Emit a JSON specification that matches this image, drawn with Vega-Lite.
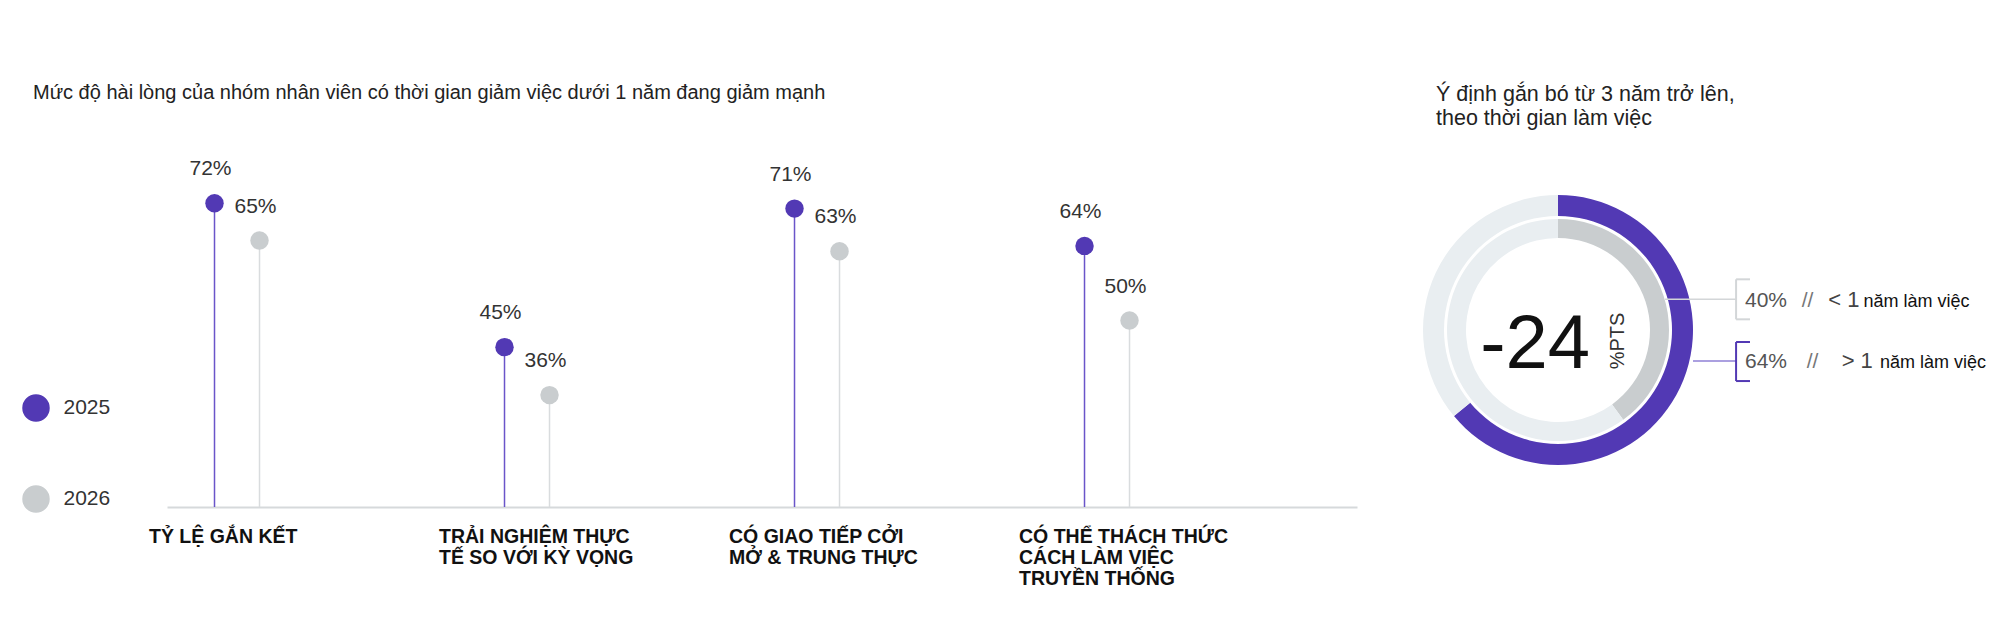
{
  "$schema": "https://vega.github.io/schema/vega-lite/v6.json",
  "background": "white",
  "padding": {"left": 22, "top": 83, "right": 5, "bottom": 5},
  "bounds": "flush",
  "spacing": 66,
  "resolve": {"scale": {"color": "independent"}, "legend": {"color": "independent"}},
  "config": {
    "view": {"stroke": null},
    "font": "Liberation Sans"
  },
  "datasets": {
    "satisfaction": [
      {"category": "TỶ LỆ GẮN KẾT", "year": "2025", "share": 0.72},
      {"category": "TỶ LỆ GẮN KẾT", "year": "2026", "share": 0.65},
      {"category": "TRẢI NGHIỆM THỰC\nTẾ SO VỚI KỲ VỌNG", "year": "2025", "share": 0.45},
      {"category": "TRẢI NGHIỆM THỰC\nTẾ SO VỚI KỲ VỌNG", "year": "2026", "share": 0.36},
      {"category": "CÓ GIAO TIẾP CỞI\nMỞ & TRUNG THỰC", "year": "2025", "share": 0.71},
      {"category": "CÓ GIAO TIẾP CỞI\nMỞ & TRUNG THỰC", "year": "2026", "share": 0.63},
      {"category": "CÓ THỂ THÁCH THỨC\nCÁCH LÀM VIỆC\nTRUYỀN THỐNG", "year": "2025", "share": 0.64},
      {"category": "CÓ THỂ THÁCH THỨC\nCÁCH LÀM VIỆC\nTRUYỀN THỐNG", "year": "2026", "share": 0.50}
    ],
    "rings": [
      {"ring": "outer", "segment": "> 1 năm làm việc", "share": 0.64, "rank": 1},
      {"ring": "outer", "segment": "outer remainder", "share": 0.36, "rank": 2},
      {"ring": "inner", "segment": "< 1 năm làm việc", "share": 0.40, "rank": 1},
      {"ring": "inner", "segment": "inner remainder", "share": 0.60, "rank": 2}
    ],
    "delta": [
      {"change": -24}
    ],
    "callouts": [
      {"tenure": "< 1", "share": 0.40, "unit": "năm làm việc"},
      {"tenure": "> 1", "share": 0.64, "unit": "năm làm việc"}
    ]
  },
  "hconcat": [
    {
      "width": 1190,
      "height": 373,
      "title": {
        "text": "Mức độ hài lòng của nhóm nhân viên có thời gian giảm việc dưới 1 năm đang giảm mạnh",
        "anchor": "start",
        "frame": "group",
        "dx": -134,
        "offset": 31,
        "fontSize": 20,
        "fontWeight": "normal",
        "color": "#222"
      },
      "data": {"name": "satisfaction"},
      "encoding": {
        "x": {
          "field": "category",
          "type": "nominal",
          "sort": null,
          "scale": {"paddingInner": 0.5172, "paddingOuter": 0.3103, "align": 0},
          "axis": {
            "title": null,
            "ticks": false,
            "domainColor": "#d6d9db",
            "domainWidth": 2,
            "labelAngle": 0,
            "labelAlign": "left",
            "labelBaseline": "top",
            "labelOffset": -88,
            "labelPadding": 20,
            "labelFontSize": 19.5,
            "labelFontWeight": "bold",
            "labelColor": "#111",
            "labelLineHeight": 21,
            "labelLimit": 0,
            "labelOverlap": false,
            "labelExpr": "split(datum.label, '\\n')"
          }
        },
        "xOffset": {
          "field": "year",
          "type": "nominal",
          "scale": {"paddingInner": 0, "paddingOuter": 0.5556}
        },
        "y": {
          "field": "share",
          "type": "quantitative",
          "scale": {"domain": [0.15, 0.85], "nice": false, "zero": false},
          "axis": null
        }
      },
      "layer": [
        {
          "mark": {"type": "rule", "strokeWidth": 1.5},
          "encoding": {
            "y2": {"datum": 0.15},
            "stroke": {
              "field": "year",
              "type": "nominal",
              "scale": {"domain": ["2025", "2026"], "range": ["#6a55c9", "#d9dcde"]},
              "legend": null
            }
          }
        },
        {
          "mark": {"type": "circle", "size": 340, "opacity": 1},
          "encoding": {
            "color": {
              "field": "year",
              "type": "nominal",
              "scale": {"domain": ["2025", "2026"], "range": ["#5239b4", "#c9cdcf"]},
              "legend": {
                "title": null,
                "orient": "none",
                "legendX": -145,
                "legendY": 260,
                "padding": 0,
                "symbolType": "circle",
                "symbolSize": 755,
                "symbolStrokeWidth": 0,
                "symbolOpacity": 1,
                "labelFontSize": 21,
                "labelColor": "#333",
                "labelOffset": 13.5,
                "rowPadding": 63
              }
            }
          }
        },
        {
          "mark": {"type": "text", "dy": -34, "dx": -4, "fontSize": 21, "color": "#333", "baseline": "middle"},
          "encoding": {
            "text": {"field": "share", "type": "quantitative", "format": ".0%"}
          }
        }
      ]
    },
    {
      "width": 560,
      "height": 373,
      "title": {
        "text": ["Ý định gắn bó từ 3 năm trở lên,", "theo thời gian làm việc"],
        "anchor": "start",
        "frame": "group",
        "dx": 13,
        "offset": 5,
        "fontSize": 21.5,
        "lineHeight": 24,
        "fontWeight": "normal",
        "color": "#222"
      },
      "encoding": {
        "x": {"datum": 0, "type": "quantitative", "scale": {"domain": [-1, 3.148], "nice": false, "zero": false}, "axis": null},
        "y": {"datum": 0, "type": "quantitative", "scale": {"domain": [-1.311, 1.452], "nice": false, "zero": false}, "axis": null}
      },
      "layer": [
        {
          "data": {"name": "rings"},
          "transform": [{"filter": "datum.ring == 'outer'"}],
          "mark": {"type": "arc", "radius": 135, "radius2": 114},
          "encoding": {
            "theta": {"field": "share", "type": "quantitative", "stack": true, "scale": {"domain": [0, 1]}},
            "order": {"field": "rank"},
            "fill": {
              "field": "segment",
              "type": "nominal",
              "scale": {
                "domain": ["> 1 năm làm việc", "outer remainder", "< 1 năm làm việc", "inner remainder"],
                "range": ["#5239b4", "#e9eef1", "#c9cdcf", "#e9eef1"]
              },
              "legend": null
            }
          }
        },
        {
          "data": {"name": "rings"},
          "transform": [{"filter": "datum.ring == 'inner'"}],
          "mark": {"type": "arc", "radius": 111, "radius2": 92},
          "encoding": {
            "theta": {"field": "share", "type": "quantitative", "stack": true, "scale": {"domain": [0, 1]}},
            "order": {"field": "rank"},
            "fill": {"field": "segment", "type": "nominal", "legend": null}
          }
        },
        {
          "data": {"name": "delta"},
          "mark": {"type": "text", "fontSize": 76, "align": "center", "baseline": "alphabetic", "color": "#111"},
          "encoding": {
            "x": {"datum": -0.17},
            "y": {"datum": -0.285},
            "text": {"field": "change", "type": "nominal"}
          }
        },
        {
          "data": {"name": "delta"},
          "mark": {"type": "text", "text": "%PTS", "angle": 270, "fontSize": 20, "align": "center", "baseline": "middle", "color": "#333"},
          "encoding": {
            "x": {"datum": 0.448},
            "y": {"datum": -0.0815}
          }
        },
        {
          "data": {"name": "callouts"},
          "transform": [{"filter": "datum.tenure == '< 1'"}],
          "layer": [
            {
              "mark": {"type": "rule", "stroke": "#d3d6d8", "strokeWidth": 1.5},
              "encoding": {"x": {"datum": 0.793}, "x2": {"datum": 1.319}, "y": {"datum": 0.227}}
            },
            {
              "mark": {"type": "rule", "stroke": "#d3d6d8", "strokeWidth": 2},
              "encoding": {"x": {"datum": 1.319}, "y": {"datum": 0.0793}, "y2": {"datum": 0.3756}}
            },
            {
              "mark": {"type": "rule", "stroke": "#d3d6d8", "strokeWidth": 2},
              "encoding": {"x": {"datum": 1.319}, "x2": {"datum": 1.422}, "y": {"datum": 0.3756}}
            },
            {
              "mark": {"type": "rule", "stroke": "#d3d6d8", "strokeWidth": 2},
              "encoding": {"x": {"datum": 1.319}, "x2": {"datum": 1.422}, "y": {"datum": 0.0793}}
            },
            {
              "mark": {"type": "text", "align": "left", "baseline": "alphabetic", "fontSize": 21, "color": "#555"},
              "encoding": {"x": {"datum": 1.385}, "y": {"datum": 0.17}, "text": {"field": "share", "type": "quantitative", "format": ".0%"}}
            },
            {
              "mark": {"type": "text", "text": "//", "align": "left", "baseline": "alphabetic", "fontSize": 21, "color": "#777"},
              "encoding": {"x": {"datum": 1.805}, "y": {"datum": 0.17}}
            },
            {
              "mark": {"type": "text", "align": "left", "baseline": "alphabetic", "fontSize": 22, "color": "#444"},
              "encoding": {"x": {"datum": 2.002}, "y": {"datum": 0.17}, "text": {"field": "tenure", "type": "nominal"}}
            },
            {
              "mark": {"type": "text", "align": "left", "baseline": "alphabetic", "fontSize": 18, "color": "#111"},
              "encoding": {"x": {"datum": 2.262}, "y": {"datum": 0.17}, "text": {"field": "unit", "type": "nominal"}}
            }
          ]
        },
        {
          "data": {"name": "callouts"},
          "transform": [{"filter": "datum.tenure == '> 1'"}],
          "layer": [
            {
              "mark": {"type": "rule", "stroke": "#8f80d6", "strokeWidth": 1.5},
              "encoding": {"x": {"datum": 1.0}, "x2": {"datum": 1.319}, "y": {"datum": -0.2296}}
            },
            {
              "mark": {"type": "rule", "stroke": "#5239b4", "strokeWidth": 2},
              "encoding": {"x": {"datum": 1.319}, "y": {"datum": -0.0889}, "y2": {"datum": -0.378}}
            },
            {
              "mark": {"type": "rule", "stroke": "#5239b4", "strokeWidth": 2},
              "encoding": {"x": {"datum": 1.319}, "x2": {"datum": 1.422}, "y": {"datum": -0.0889}}
            },
            {
              "mark": {"type": "rule", "stroke": "#5239b4", "strokeWidth": 2},
              "encoding": {"x": {"datum": 1.319}, "x2": {"datum": 1.422}, "y": {"datum": -0.378}}
            },
            {
              "mark": {"type": "text", "align": "left", "baseline": "alphabetic", "fontSize": 21, "color": "#555"},
              "encoding": {"x": {"datum": 1.385}, "y": {"datum": -0.279}, "text": {"field": "share", "type": "quantitative", "format": ".0%"}}
            },
            {
              "mark": {"type": "text", "text": "//", "align": "left", "baseline": "alphabetic", "fontSize": 21, "color": "#777"},
              "encoding": {"x": {"datum": 1.842}, "y": {"datum": -0.279}}
            },
            {
              "mark": {"type": "text", "align": "left", "baseline": "alphabetic", "fontSize": 22, "color": "#444"},
              "encoding": {"x": {"datum": 2.101}, "y": {"datum": -0.279}, "text": {"field": "tenure", "type": "nominal"}}
            },
            {
              "mark": {"type": "text", "align": "left", "baseline": "alphabetic", "fontSize": 18, "color": "#111"},
              "encoding": {"x": {"datum": 2.385}, "y": {"datum": -0.279}, "text": {"field": "unit", "type": "nominal"}}
            }
          ]
        }
      ]
    }
  ]
}
